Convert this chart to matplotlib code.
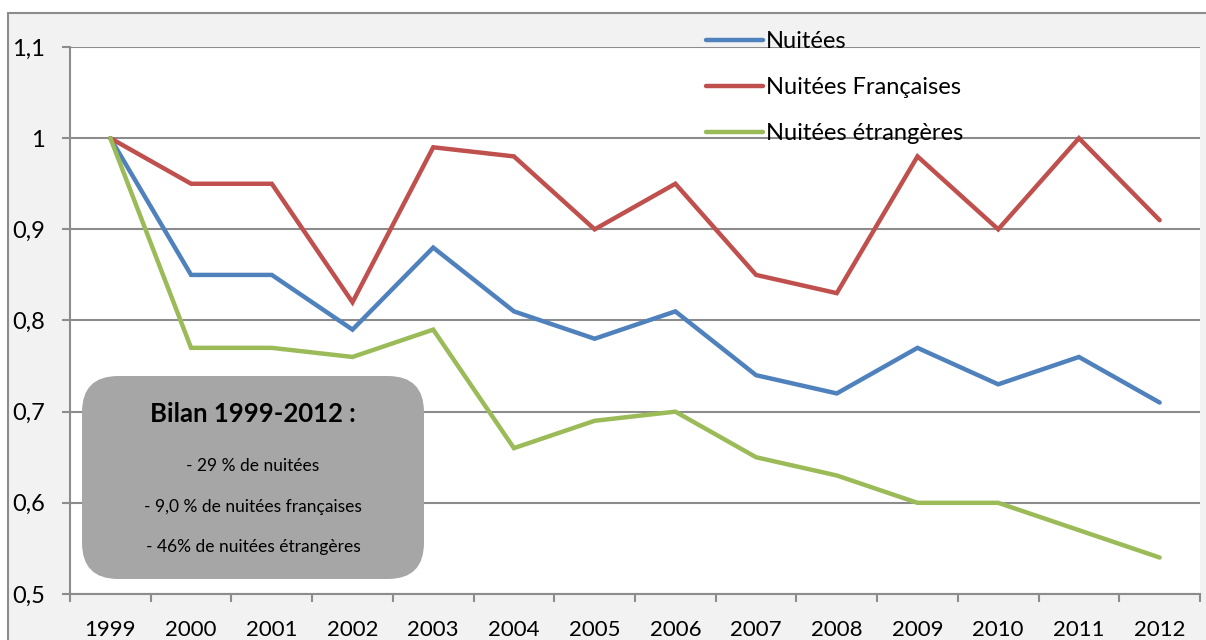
import matplotlib
matplotlib.use("Agg")
import matplotlib.pyplot as plt
from matplotlib.patches import Rectangle, FancyBboxPatch

years = ["1999", "2000", "2001", "2002", "2003", "2004", "2005", "2006",
         "2007", "2008", "2009", "2010", "2011", "2012"]
nuitees = [1.00, 0.85, 0.85, 0.79, 0.88, 0.81, 0.78, 0.81, 0.74, 0.72, 0.77, 0.73, 0.76, 0.71]
nuitees_fr = [1.00, 0.95, 0.95, 0.82, 0.99, 0.98, 0.90, 0.95, 0.85, 0.83, 0.98, 0.90, 1.00, 0.91]
nuitees_et = [1.00, 0.77, 0.77, 0.76, 0.79, 0.66, 0.69, 0.70, 0.65, 0.63, 0.60, 0.60, 0.57, 0.54]
series_labels = ["Nuitées", "Nuitées Françaises", "Nuitées étrangères"]
y_ticks = [0.5, 0.6, 0.7, 0.8, 0.9, 1.0, 1.1]
y_tick_labels = ["0,5", "0,6", "0,7", "0,8", "0,9", "1", "1,1"]
box_title = "Bilan 1999-2012 :"
box_lines = ["- 29 % de nuitées", "- 9,0 % de nuitées françaises", "- 46% de nuitées étrangères"]

plt.rcParams['font.family'] = ['Lato', 'DejaVu Sans']

W, H = 1206, 640
fig = plt.figure(figsize=(W / 100, H / 100), dpi=100)
fig.patch.set_facecolor("white")

# outer chart area
fig.patches.append(Rectangle((8 / W, -0.1), 1.2, 1 - 13 / H + 0.1,
                             transform=fig.transFigure, facecolor="#f2f2f2",
                             edgecolor="#8c8c8c", linewidth=1.5, zorder=-2))

ax = fig.add_axes([70 / W, 1 - 594 / H, (1200 - 70) / W, (594 - 47) / H])
ax.set_facecolor("white")

x = list(range(len(years)))
colors = ["#4f81bd", "#c0504d", "#9bbb59"]
for vals, lab, c in zip([nuitees, nuitees_fr, nuitees_et], series_labels, colors):
    ax.plot(x, vals, color=c, linewidth=3.2, label=lab, solid_capstyle="round",
            solid_joinstyle="miter", zorder=3)

ax.set_xlim(-0.5, len(years) - 0.5)
ax.set_ylim(0.5, 1.1)
ax.set_yticks(y_ticks)
ax.set_yticklabels(y_tick_labels, fontsize=17)
ax.set_xticks(x)
ax.set_xticklabels(years, fontsize=16)
ax.set_xticks([i - 0.5 for i in range(len(years) + 1)], minor=True)
ax.tick_params(axis="x", which="major", length=0, pad=19)
ax.tick_params(axis="x", which="minor", length=6, width=1.5, color="#8c8c8c", direction="out")
ax.tick_params(axis="y", which="major", length=6, width=1.5, color="#8c8c8c", pad=12)
ax.grid(axis="y", color="#8c8c8c", linewidth=1.5, zorder=1)
ax.set_axisbelow(True)
for s in ["top", "right"]:
    ax.spines[s].set_visible(False)
for s in ["left", "bottom"]:
    ax.spines[s].set_color("#8c8c8c")
    ax.spines[s].set_linewidth(1.5)

leg = fig.legend(loc="upper left", bbox_to_anchor=(706 / W, 1 - 31 / H),
                 bbox_transform=fig.transFigure, frameon=False, fontsize=17,
                 handlelength=2.4, handletextpad=0.15, labelspacing=1.06,
                 borderpad=0, borderaxespad=0)
leg.set_zorder(6)

# summary box
bx0, by0, bx1, by1 = 82, 376, 424, 579
box = FancyBboxPatch((bx0 / W, 1 - by1 / H), (bx1 - bx0) / W, (by1 - by0) / H,
                     boxstyle="round,pad=0,rounding_size=0.03",
                     mutation_aspect=W / H,
                     transform=fig.transFigure, facecolor="#a6a6a6",
                     edgecolor="none", zorder=5)
fig.patches.append(box)
cx = (bx0 + bx1) / 2 / W
fig.text(cx, 1 - 414 / H, box_title, ha="center", va="center", fontsize=18.5,
         fontweight="bold", zorder=6)
for yy, t in zip([466, 507, 547], box_lines):
    fig.text(cx, 1 - yy / H, t, ha="center", va="center", fontsize=12.5, zorder=6)

fig.savefig("out.png", dpi=100)
